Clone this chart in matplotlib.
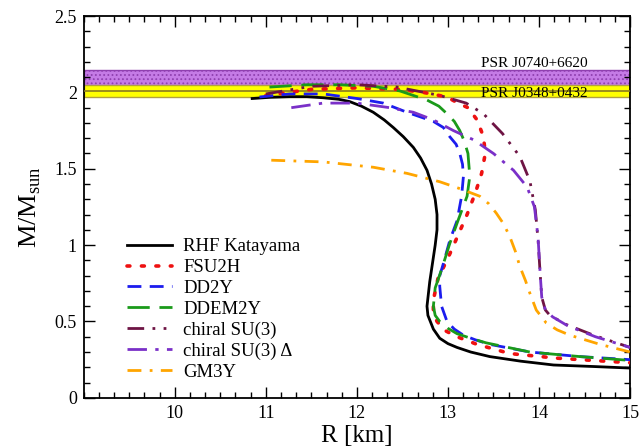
import matplotlib
matplotlib.use("Agg")
import matplotlib.pyplot as plt
from matplotlib.ticker import MultipleLocator, AutoMinorLocator

plt.rcParams['font.family'] = ['Liberation Serif', 'DejaVu Serif']
plt.rcParams['mathtext.fontset'] = 'custom'
plt.rcParams['mathtext.rm'] = 'Liberation Serif'
plt.rcParams['hatch.color'] = '#a8a0b0'
plt.rcParams['hatch.linewidth'] = 0.8

# mass-radius curves (R in km, M in M_sun)
rhf_R = [10.85, 11.05, 11.26, 11.45, 11.63, 11.80, 11.92, 12.05, 12.18, 12.30, 12.40, 12.51,
         12.62, 12.70, 12.77, 12.82, 12.86, 12.88, 12.88, 12.86, 12.83, 12.80, 12.77, 12.78,
         12.84, 12.91, 13.00, 13.10, 13.25, 13.46, 13.80, 14.16, 14.60, 15.0]
rhf_M = [1.96, 1.968, 1.972, 1.972, 1.965, 1.955, 1.94, 1.91, 1.87, 1.82, 1.77, 1.71,
         1.64, 1.57, 1.49, 1.40, 1.30, 1.20, 1.10, 1.00, 0.88, 0.76, 0.60, 0.54,
         0.45, 0.39, 0.355, 0.33, 0.30, 0.27, 0.24, 0.215, 0.205, 0.195]

fsu_R = [11.0, 11.5, 12.0, 12.47, 12.73, 12.99, 13.11, 13.22, 13.32, 13.39, 13.41, 13.37,
         13.30, 13.21, 13.10, 13.00, 12.89, 12.84, 12.84, 12.88, 12.97, 13.10, 13.32,
         13.68, 14.19, 15.0]
fsu_M = [1.98, 2.02, 2.03, 2.02, 2.00, 1.97, 1.93, 1.90, 1.82, 1.71, 1.60, 1.47,
         1.34, 1.20, 1.05, 0.915, 0.78, 0.64, 0.555, 0.50, 0.44, 0.40, 0.35,
         0.29, 0.26, 0.23]

dd2_R = [10.93, 11.26, 11.63, 12.00, 12.29, 12.55, 12.84, 12.95, 13.02, 13.09, 13.13, 13.16,
         13.17, 13.15, 13.10, 13.02, 12.95, 12.91, 12.91, 12.93, 12.99, 13.07, 13.17, 13.30,
         13.46, 13.90, 14.45, 15.0]
dd2_M = [1.97, 1.99, 1.99, 1.96, 1.93, 1.87, 1.81, 1.77, 1.71, 1.66, 1.60, 1.53,
         1.45, 1.32, 1.16, 1.03, 0.88, 0.80, 0.73, 0.60, 0.50, 0.45, 0.41, 0.38,
         0.35, 0.30, 0.27, 0.25]

ddem_R = [11.04, 11.45, 11.81, 12.18, 12.47, 12.77, 12.90, 12.99, 13.07, 13.13, 13.18, 13.22,
          13.24, 13.21, 13.11, 13.02, 12.93, 12.86, 12.84, 12.86, 12.91, 13.00, 13.10, 13.25,
          13.42, 13.90, 14.45, 15.0]
ddem_M = [2.035, 2.05, 2.05, 2.04, 2.01, 1.95, 1.91, 1.86, 1.81, 1.75, 1.68, 1.60,
          1.45, 1.32, 1.16, 1.01, 0.84, 0.72, 0.60, 0.54, 0.50, 0.455, 0.42, 0.39,
          0.36, 0.30, 0.27, 0.245]

chi_R = [11.0, 11.5, 12.0, 12.44, 12.91, 13.20, 13.39, 13.60, 13.79, 13.90, 13.96,
         13.99, 14.01, 14.03, 14.07, 14.12, 14.30, 14.60, 15.0]
chi_M = [1.99, 2.04, 2.05, 2.035, 1.98, 1.93, 1.86, 1.73, 1.58, 1.42, 1.23,
         1.03, 0.84, 0.66, 0.575, 0.54, 0.48, 0.41, 0.33]

chid_R = [11.28, 11.63, 12.0, 12.36, 12.62, 12.84, 13.06, 13.28, 13.50, 13.72, 13.87,
          13.95, 13.99, 14.01, 14.03, 14.07, 14.15, 14.32, 14.62, 15.0]
chid_M = [1.90, 1.93, 1.93, 1.90, 1.87, 1.82, 1.75, 1.69, 1.60, 1.49, 1.38,
          1.25, 1.05, 0.84, 0.66, 0.575, 0.53, 0.47, 0.40, 0.33]

gm3_R = [11.06, 11.63, 12.18, 12.55, 12.91, 13.13, 13.35, 13.45, 13.53, 13.61, 13.68, 13.74,
         13.79, 13.85, 13.90, 13.97, 14.08, 14.20, 14.34, 14.67, 15.0]
gm3_M = [1.556, 1.545, 1.51, 1.47, 1.415, 1.37, 1.32, 1.27, 1.21, 1.14, 1.055, 0.96,
         0.86, 0.77, 0.685, 0.575, 0.49, 0.445, 0.41, 0.35, 0.30]

# pulsar mass constraints
j0740 = (2.01, 2.15)
j0348 = (1.97, 2.05)
j0348_c = 2.01

fig = plt.figure(figsize=(6.39, 4.46), dpi=100)
ax = fig.add_axes([0.131, 0.108, 0.855, 0.856])

ax.axhspan(j0740[0], j0740[1], facecolor='#c57be6', edgecolor='#9040b0', hatch='....', lw=1, zorder=1)
ax.axhspan(j0348[0], j0348[1], facecolor='#ffff00', edgecolor='#b0a040', lw=1, zorder=2)
ax.axhline(j0348_c, color='#8a7a20', lw=1.2, zorder=3)

ax.text(13.36, 2.165, 'PSR J0740+6620', fontsize=11, zorder=6)
ax.text(13.36, 1.97, 'PSR J0348+0432', fontsize=11, zorder=6)

ax.plot(rhf_R, rhf_M, color='black', lw=2, label='RHF Katayama', zorder=5)
ax.plot(fsu_R, fsu_M, color='#ee1111', lw=2.6, ls=(0, (0.8, 3.2)), dash_capstyle='round',
        label='FSU2H', zorder=5)
ax.plot(dd2_R, dd2_M, color='#1c1cee', lw=2, ls=(0, (5, 3)), label='DD2Y', zorder=5)
ax.plot(ddem_R, ddem_M, color='#1a9a1a', lw=2, ls=(0, (8, 3.5)), label='DDEM2Y', zorder=5)
ax.plot(chi_R, chi_M, color='#6e1444', lw=2, ls=(0, (6, 3, 1, 3, 1, 3)),
        label='chiral SU(3)', zorder=5)
ax.plot(chid_R, chid_M, color='#7a30c8', lw=2, ls=(0, (7, 3, 1.2, 3)),
        label='chiral SU(3) \u0394', zorder=5)
ax.plot(gm3_R, gm3_M, color='#ffa500', lw=2, ls=(0, (5, 3, 1, 3)), label='GM3Y', zorder=5)

ax.set_xlim(9, 15)
ax.set_ylim(0, 2.5)
ax.xaxis.set_major_locator(MultipleLocator(1))
ax.xaxis.set_minor_locator(AutoMinorLocator(6))
ax.yaxis.set_major_locator(MultipleLocator(0.5))
ax.yaxis.set_minor_locator(AutoMinorLocator(5))
ax.set_xticks([10, 11, 12, 13, 14, 15])
ax.set_yticks([0, 0.5, 1, 1.5, 2, 2.5])
ax.set_yticklabels(['0', '0.5', '1', '1.5', '2', '2.5'])
ax.tick_params(which='both', direction='in', top=True, right=True, labelsize=13, width=1)
ax.tick_params(which='major', length=8, pad=5)
ax.tick_params(which='minor', length=4)
for s in ax.spines.values():
    s.set_linewidth(1.3)

ax.set_xlabel('R [km]', fontsize=18, labelpad=2)
ax.set_ylabel(r'M/M$_\mathregular{sun}$', fontsize=19, labelpad=8)

ax.legend(loc='upper left', bbox_to_anchor=(0.065, 0.438), frameon=False, fontsize=13.5,
          handlelength=2.4, labelspacing=0.2, handletextpad=0.6, borderaxespad=0)

fig.savefig('out.png', dpi=100)
